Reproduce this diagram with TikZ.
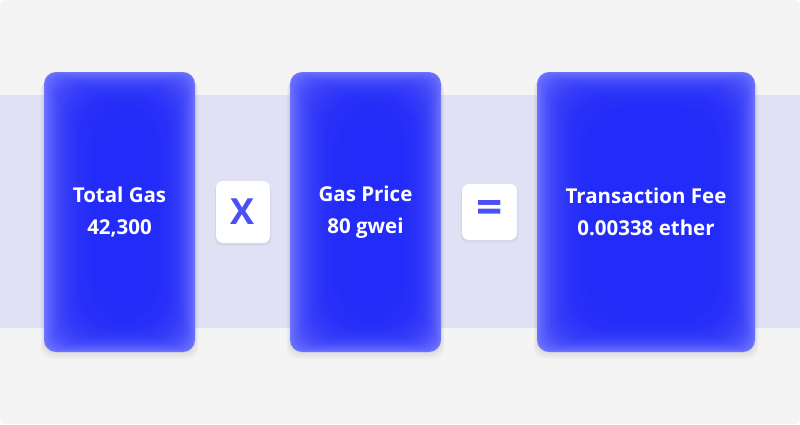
\documentclass[tikz,border=0pt]{standalone}
\usepackage{fontspec}
\setmainfont{Open Sans}
\definecolor{bgray}{HTML}{F4F4F4}
\definecolor{band}{HTML}{E0E1F4}
\definecolor{bcore}{HTML}{222AF8}
\definecolor{bedge}{HTML}{6E74FE}
\definecolor{optxt}{HTML}{4A50F4}
\begin{document}
\begin{tikzpicture}[x=1pt,y=-1pt,
  glow/.style={
    path picture={
      \foreach \i in {1,3,...,39}{
        \pgfmathsetmacro{\r}{12+0.9*\i}
        \fill[bcore, fill opacity=0.13, rounded corners=\r pt]
          ([shift={(1.25*\i,0.9*\i)}]path picture bounding box.north west) rectangle
          ([shift={(-0.95*\i,-0.8*\i)}]path picture bounding box.south east);
      }
    }},
  valbox/.style={rounded corners=12pt, fill=bedge, glow, draw=none, text=white,
    font=\fontsize{20.5}{32}\selectfont\bfseries, align=center, inner sep=0pt},
  opbox/.style={rounded corners=7pt, fill=white, draw=none, text=optxt, inner sep=0pt},
  shadowbox/.style={rounded corners=12pt, fill=black, fill opacity=0.025, draw=none}]
\useasboundingbox (0,0) rectangle (800,424);
\fill[white] (0,0) rectangle (800,424);
\fill[bgray, rounded corners=6pt] (0,0) rectangle (800,424);
\fill[band] (0,95) rectangle (800,328);
% shadows
\foreach \x/\w in {44/151,290/151,537/218}{
  \foreach \d in {1,3,5,7}{
    \fill[shadowbox] (\x-\d/2,72+\d) rectangle (\x+\w+\d/2,352+\d);
  }
}
\foreach \x/\y/\w/\h in {216/181/54/62,462/184/55/56}{
  \foreach \d in {1,2,3}{
    \fill[rounded corners=7pt, fill=black, fill opacity=0.02] (\x-\d/2,\y+\d) rectangle (\x+\w+\d/2,\y+\h+\d);
  }
}
\node[valbox, minimum width=151pt, minimum height=280pt] (gas) at (119.5,212) {Total Gas\\42,300};
\node[valbox, minimum width=151pt, minimum height=280pt] (price) at (365.5,212) {Gas Price\\80 gwei};
\node[valbox, minimum width=218pt, minimum height=280pt] (fee) at (646,212) {Transaction Fee\\0.00338 ether};
\node[opbox, minimum width=54pt, minimum height=62pt, font=\fontsize{36}{36}\selectfont\bfseries] (times) at (243,212) {X};
\node[opbox, minimum width=55pt, minimum height=56pt, font=\fontsize{46}{46}\selectfont\bfseries] (equals) at (489.5,212) {=};
\end{tikzpicture}
\end{document}
